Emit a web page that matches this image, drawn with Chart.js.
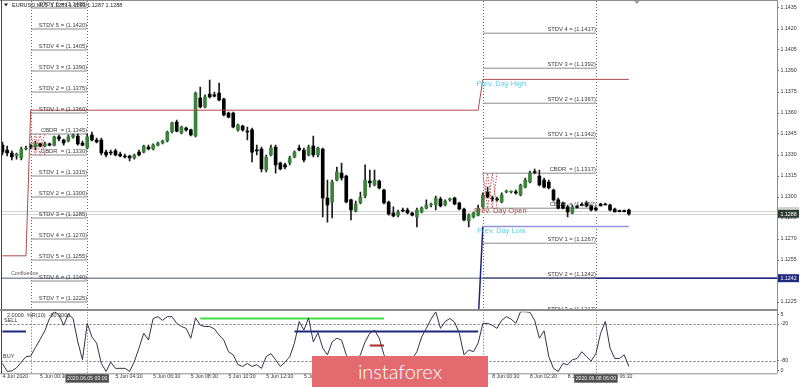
<!DOCTYPE html>
<html><head><meta charset="utf-8">
<script src="https://cdn.jsdelivr.net/npm/chart.js@4.4.1/dist/chart.umd.min.js"></script>
<style>
html,body{margin:0;padding:0;background:#fff;width:800px;height:387px;overflow:hidden;position:relative;font-family:"Liberation Sans",Arial,sans-serif}
#main{position:absolute;left:0;top:0;width:800px;height:309px}
#sub{position:absolute;left:0;top:311px;width:800px;height:76px}
#sep{position:absolute;left:0;top:309px;width:778px;height:2px;background:#8c8c8c}
#logo{position:absolute;left:312px;top:355.5px;width:176px;height:31.5px;background:#e36b6f;color:#fff;font:300 20px Lato,Roboto,"Open Sans",sans-serif;display:flex;align-items:center;justify-content:center}
</style></head>
<body>
<canvas id="main" width="800" height="309"></canvas>
<div id="sep"></div>
<canvas id="sub" width="800" height="76"></canvas>
<div id="logo">instaforex</div>
<script>
// ---- data (bar numbers counted from 5 Jun 2020 00:00, M15) ----
const firstBar = -6;
const open = [
1.13371,1.13336,1.13314,1.13293,1.13279,1.13343,1.13364,1.13357,1.13379,1.13364,
1.13379,1.13371,1.13429,1.13407,1.13400,1.13429,1.13436,1.13386,1.13350,1.13443,
1.13407,1.13407,1.13321,1.13321,1.13329,1.13307,1.13293,1.13293,1.13279,1.13321,
1.13321,1.13357,1.13343,1.13371,1.13386,1.13400,1.13464,1.13536,1.13457,1.13493,
1.13479,1.13436,1.13707,1.13643,1.13736,1.13729,1.13743,1.13700,1.13600,1.13600,
1.13479,1.13507,1.13471,1.13479,1.13336,1.13343,1.13193,1.13300,1.13357,1.13243,
1.13229,1.13243,1.13286,1.13350,1.13336,1.13300,1.13364,1.13300,1.13343,1.12993,
1.12964,1.13121,1.13171,1.13150,1.12979,1.12900,1.12957,1.13007,1.13114,1.13086,
1.13114,1.13050,1.12964,1.12886,1.12871,1.12907,1.12907,1.12886,1.12857,1.12893,
1.12921,1.12943,1.12943,1.12986,1.12943,1.12979,1.12993,1.12957,1.12914,1.12829,
1.12857,1.12871,1.12929,1.13036,1.12993,1.12986,1.12964,1.13036,1.13036,1.13036,
1.13014,1.13071,1.13107,1.13179,1.13150,1.13121,1.13107,1.13050,1.12979,1.12957,
1.12929,1.12886,1.12929,1.12943,1.12957,1.12936,1.12921,1.12950,1.12950,1.12943,
1.12914,1.12900,1.12900,1.12907];
const high = [
1.13393,1.13364,1.13329,1.13314,1.13357,1.13364,1.13379,1.13400,1.13386,1.13393,
1.13386,1.13436,1.13443,1.13414,1.13443,1.13450,1.13450,1.13400,1.13450,1.13464,
1.13421,1.13421,1.13336,1.13336,1.13343,1.13321,1.13307,1.13300,1.13307,1.13336,
1.13371,1.13371,1.13379,1.13393,1.13407,1.13471,1.13536,1.13550,1.13507,1.13500,
1.13486,1.13750,1.13786,1.13729,1.13836,1.13750,1.13814,1.13707,1.13607,1.13607,
1.13521,1.13514,1.13500,1.13493,1.13371,1.13357,1.13300,1.13371,1.13371,1.13250,
1.13243,1.13293,1.13329,1.13371,1.13350,1.13371,1.13436,1.13357,1.13350,1.13121,
1.13121,1.13214,1.13243,1.13157,1.12986,1.12971,1.13036,1.13229,1.13193,1.13193,
1.13121,1.13057,1.12971,1.12929,1.12907,1.12921,1.12921,1.12893,1.12921,1.12929,
1.12979,1.12957,1.13007,1.13000,1.12979,1.12993,1.13000,1.12964,1.12921,1.12879,
1.12893,1.12943,1.13029,1.13071,1.13007,1.13000,1.13029,1.13050,1.13043,1.13050,
1.13093,1.13136,1.13186,1.13200,1.13193,1.13136,1.13121,1.13057,1.12993,1.12964,
1.12943,1.12943,1.12943,1.12957,1.12971,1.12943,1.12929,1.12957,1.12957,1.12950,
1.12921,1.12907,1.12907,1.12914];
const low = [
1.13300,1.13293,1.13264,1.13271,1.13264,1.13336,1.13343,1.13336,1.13357,1.13357,
1.13364,1.13364,1.13400,1.13371,1.13393,1.13421,1.13371,1.13364,1.13343,1.13400,
1.13386,1.13300,1.13286,1.13300,1.13293,1.13286,1.13279,1.13257,1.13271,1.13293,
1.13314,1.13336,1.13336,1.13364,1.13379,1.13393,1.13457,1.13464,1.13450,1.13471,
1.13436,1.13429,1.13636,1.13636,1.13707,1.13714,1.13686,1.13579,1.13564,1.13493,
1.13471,1.13471,1.13407,1.13250,1.13300,1.13179,1.13179,1.13293,1.13171,1.13193,
1.13200,1.13229,1.13279,1.13329,1.13250,1.13293,1.13286,1.13286,1.12857,1.12821,
1.12850,1.13114,1.13121,1.12957,1.12836,1.12893,1.12950,1.12993,1.13071,1.13079,
1.13057,1.12950,1.12871,1.12857,1.12857,1.12893,1.12879,1.12864,1.12786,1.12886,
1.12914,1.12929,1.12907,1.12929,1.12936,1.12971,1.12943,1.12907,1.12829,1.12786,
1.12850,1.12864,1.12921,1.12993,1.12971,1.12971,1.12957,1.13029,1.13029,1.13021,
1.13007,1.13064,1.13100,1.13164,1.13079,1.13064,1.13057,1.12971,1.12914,1.12914,
1.12857,1.12879,1.12921,1.12936,1.12929,1.12900,1.12900,1.12936,1.12943,1.12900,
1.12893,1.12893,1.12893,1.12871];
const close = [
1.13321,1.13314,1.13286,1.13307,1.13343,1.13350,1.13357,1.13379,1.13364,1.13379,
1.13371,1.13429,1.13414,1.13386,1.13429,1.13443,1.13379,1.13371,1.13429,1.13407,
1.13393,1.13314,1.13300,1.13314,1.13300,1.13293,1.13286,1.13279,1.13300,1.13300,
1.13364,1.13343,1.13371,1.13386,1.13400,1.13464,1.13529,1.13471,1.13500,1.13479,
1.13443,1.13743,1.13643,1.13714,1.13714,1.13721,1.13693,1.13586,1.13571,1.13500,
1.13514,1.13479,1.13464,1.13321,1.13329,1.13200,1.13286,1.13350,1.13229,1.13200,
1.13214,1.13279,1.13321,1.13336,1.13264,1.13357,1.13300,1.13350,1.12993,1.12943,
1.13107,1.13179,1.13136,1.12964,1.12907,1.12950,1.13000,1.13121,1.13100,1.13121,
1.13064,1.12957,1.12879,1.12864,1.12893,1.12900,1.12886,1.12871,1.12907,1.12921,
1.12943,1.12950,1.12993,1.12936,1.12971,1.12986,1.12950,1.12914,1.12836,1.12871,
1.12886,1.12921,1.13014,1.13000,1.12986,1.12979,1.13014,1.13043,1.13040,1.13029,
1.13086,1.13121,1.13171,1.13175,1.13086,1.13071,1.13064,1.12979,1.12921,1.12921,
1.12893,1.12929,1.12925,1.12940,1.12936,1.12907,1.12907,1.12936,1.12943,1.12907,
1.12893,1.12895,1.12895,1.12879];
const wpr = [
-84,-97,-96,-91,-82,-73,-72,-58,-45,-31,
-11,0,-5,-22,-4,-11,-49,-78,-19,-41,
-51,-84,-97,-82,-92,-92,-92,-97,-81,-59,
-35,-46,-11,-8,-14,-8,-8,-19,-24,-27,
-43,-10,-22,-24,-24,-28,-38,-46,-65,-70,
-86,-89,-84,-89,-86,-92,-73,-68,-78,-89,
-82,-73,-51,-16,-30,-10,-49,-34,-59,-70,
-49,-43,-46,-70,-84,-81,-70,-49,-35,-30,
-43,-70,-84,-90,-85,-90,-80,-76,-65,-41,
-27,-12,0,-27,-16,-11,-17,-35,-70,-62,
-65,-51,-19,-19,-22,-27,-14,-8,-12,-19,
0,0,-1,-14,-43,-31,-73,-92,-97,-84,
-86,-78,-76,-65,-73,-80,-68,-35,-16,-59,
-76,-76,-70,-89];

const priceTicks = [1.1225,1.1240,1.1255,1.1270,1.1285,1.1300,1.1315,1.1330,1.1345,1.1360,1.1375,1.1390,1.1405,1.1420,1.1435];
const wprTicks = [-5,-20,-80,-95];
const wprTickLabels = ['5','-20','-80','0'];
const wprLevels = [-20,-80];
const tickBars = [-6,2,10,18,26,34,42,50,58,66,74,82,90,98,106,114,122];
const tickLabels = ['4 Jun 2020','5 Jun 00:30','5 Jun 02:30','5 Jun 04:30','5 Jun 06:30','5 Jun 08:30','5 Jun 10:30','5 Jun 12:30','5 Jun 14:30','5 Jun 16:30','5 Jun 18:30','5 Jun 20:30','5 Jun 22:30','8 Jun 00:30','8 Jun 02:30','8 Jun 04:30','8 Jun 06:30'];
const cursorBars = [12,120];
const cursorLabels = ['2020.06.05 03:00','2020.06.08 06:00'];
const sessionBars = [0,12,96,120];

const leftLevels = [1.1435,1.1420,1.1405,1.1390,1.1375,1.1360,1.1345,1.1330,1.1315,1.1300,1.1285,1.1270,1.1255,1.1240,1.1225];
const leftNames = ['STDV 6','STDV 5','STDV 4','STDV 3','STDV 2','STDV 1','CBDR ','CBDR ','STDV 1','STDV 2','STDV 3','STDV 4','STDV 5','STDV 6','STDV 7'];
const leftSpan = [0,12];
const rightLevels = [1.1417,1.1392,1.1367,1.1342,1.1317,1.1292,1.1267,1.1242,1.1217];
const rightNames = ['STDV 4','STDV 3','STDV 2','STDV 1','CBDR ','CBDR ','STDV 1','STDV 2','STDV 3'];
const rightSpan = [96,120];

const dayHighBars = [-6,-1,0,95,96,127];
const dayHighVals = [1.1258,1.1258,1.1362,1.1362,1.1384,1.1384];
const dayLowBars = [-6,-1,0,95,96,127];
const dayLowVals = [1.1170,1.1170,1.1211,1.1211,1.1279,1.1279];
const confluenceLevel = 1.1242;
const confluenceStart = 96;
const askPrice = 1.1290, bidPrice = 1.1288;
const cbdrZigBars = [[0,1,2,3],[96,97,98,99]];
const cbdrZigA = [[1.1330,1.1345,1.1330,1.1345],[1.1292,1.1317,1.1292,1.1317]];
const cbdrZigB = [[1.1345,1.1330,1.1345,1.1330],[1.1317,1.1292,1.1317,1.1292]];
const notes = [
  {text:'Prev. Day High', bar:94.6, price:1.1381, color:'#55d0e6', size:7.5},
  {text:'Prev. Day Open', bar:94.1, price:1.1290, color:'#b04646', size:7.5},
  {text:'Prev. Day Low',  bar:94.8, price:1.1276, color:'#55d0e6', size:7.5},
  {text:'Confluence',     bar:-4.2, price:1.1245, color:'#555555', size:5.4}
];
const header = 'EURUSD,M15  1.1289 1.1290 1.1287 1.1288';
const subHeader = '2.0000  %R(10)  -80.0000';
const wprNavySegs = [[-6,-1],[56,95]], wprNavy = -32;
const wprGreenSegs = [[36,75]], wprGreen = -11;
const wprRedSegs = [[72,75]], wprRed = -55;
const shiftBar = 128.7;

// ---- builders ----
const FONT = '"Liberation Sans", Arial, sans-serif';
Chart.defaults.font.family = FONT;
const bars = open.map((o,k)=>k+firstBar);
function segs(list, val){ const out=[]; list.forEach(([a,b])=>{out.push({x:a,y:val},{x:b,y:val},{x:b,y:null});}); return out; }
function levelSegs(levels, span){ const out=[]; levels.forEach(v=>{out.push({x:span[0],y:v},{x:span[1],y:v},{x:span[1],y:null});}); return out; }
const XMIN = -6.2, XMAX = 158.45;
const lineBase = {type:'line', pointRadius:0, borderWidth:1, tension:0, spanGaps:false};

const mainDecor = {
  id:'mainDecor',
  beforeDatasetsDraw(chart){
    const {ctx, chartArea:a, scales:{x,y}} = chart;
    ctx.save();
    ctx.beginPath(); ctx.rect(a.left,a.top,a.right-a.left,a.bottom-a.top); ctx.clip();
    ctx.strokeStyle='#666'; ctx.lineWidth=1; ctx.setLineDash([1,2]);
    sessionBars.forEach(b=>{const X=Math.round(x.getPixelForValue(b))+0.5; ctx.beginPath(); ctx.moveTo(X,a.top); ctx.lineTo(X,a.bottom); ctx.stroke();});
    ctx.setLineDash([]);
    ctx.strokeStyle='#d4d4d4';
    [askPrice,bidPrice].forEach(p=>{const Y=Math.round(y.getPixelForValue(p))+0.5; ctx.beginPath(); ctx.moveTo(a.left,Y); ctx.lineTo(a.right,Y); ctx.stroke();});
    const Y=y.getPixelForValue(confluenceLevel);
    ctx.strokeStyle='#8a90a2'; ctx.lineWidth=1.5; ctx.beginPath(); ctx.moveTo(a.left,Y); ctx.lineTo(a.right,Y); ctx.stroke();
    ctx.strokeStyle='#1c2680'; ctx.beginPath(); ctx.moveTo(x.getPixelForValue(confluenceStart),Y); ctx.lineTo(a.right,Y); ctx.stroke();
    ctx.restore();
  },
  afterDatasetsDraw(chart){
    const {ctx, chartArea:a, scales:{x,y}} = chart;
    ctx.save();
    ctx.beginPath(); ctx.rect(a.left,a.top,a.right-a.left,a.bottom-a.top); ctx.clip();
    ctx.font='5.8px '+FONT; ctx.fillStyle='#3a3a3a'; ctx.textAlign='right'; ctx.textBaseline='alphabetic';
    leftLevels.forEach((v,k)=>ctx.fillText(leftNames[k]+' = ('+v.toFixed(4)+')', x.getPixelForValue(leftSpan[1]), y.getPixelForValue(v)-2));
    rightLevels.forEach((v,k)=>ctx.fillText(rightNames[k]+' = ('+v.toFixed(4)+')', x.getPixelForValue(rightSpan[1]), y.getPixelForValue(v)-2));
    ctx.textAlign='left'; ctx.textBaseline='middle';
    notes.forEach(n=>{ctx.font=n.size+'px '+FONT; ctx.fillStyle=n.color; ctx.fillText(n.text, x.getPixelForValue(n.bar), y.getPixelForValue(n.price));});
    ctx.restore();
  },
  afterDraw(chart){
    const {ctx, chartArea:a, scales:{x,y}} = chart;
    ctx.save();
    ctx.strokeStyle='#8c8c8c'; ctx.lineWidth=1;
    ctx.beginPath(); ctx.moveTo(0,0.5); ctx.lineTo(a.right,0.5); ctx.stroke();
    ctx.beginPath(); ctx.moveTo(a.right+0.5,0); ctx.lineTo(a.right+0.5,a.bottom); ctx.stroke();
    ctx.strokeStyle='#444';
    ctx.beginPath(); ctx.moveTo(1.5,0); ctx.lineTo(1.5,a.bottom); ctx.stroke();
    ctx.fillStyle='#222'; ctx.textBaseline='middle'; ctx.textAlign='left';
    ctx.beginPath(); ctx.moveTo(4,3.5); ctx.lineTo(8,3.5); ctx.lineTo(6,6.5); ctx.closePath(); ctx.fill();
    ctx.font='5.5px '+FONT; ctx.fillText(header, 12, 5);
    const sx=x.getPixelForValue(shiftBar);
    ctx.fillStyle='#999'; ctx.beginPath(); ctx.moveTo(sx-2.5,1); ctx.lineTo(sx+2.5,1); ctx.lineTo(sx,4); ctx.closePath(); ctx.fill();
    ctx.font='5.3px '+FONT; ctx.textAlign='left';
    [[askPrice,'#d2d2d2','#f6f6f6'],[bidPrice,'#2e3b33','#ffffff'],[confluenceLevel,'#1f2a80','#ffffff']].forEach(([p,bg,fg])=>{
      const Y=y.getPixelForValue(p);
      ctx.fillStyle=bg; ctx.fillRect(a.right+1, Y-4, 21, 8);
      ctx.fillStyle=fg; ctx.fillText(p.toFixed(4), a.right+3.5, Y+0.3);
    });
    ctx.restore();
  }
};

new Chart(document.getElementById('main'), {
  type:'bar',
  data:{datasets:[
    {type:'bar', label:'body', order:1, grouped:false, barThickness:3, minBarLength:1,
     data: bars.map((b,k)=>({x:b, y:[open[k], close[k]]})),
     backgroundColor: c => (close[c.dataIndex] >= open[c.dataIndex]) ? '#3b823b' : '#000000'},
    {type:'bar', label:'wick', order:2, grouped:false, barThickness:1, minBarLength:1,
     data: bars.map((b,k)=>({x:b, y:[low[k], high[k]]})), backgroundColor:'#1a1a1a'},
    {...lineBase, order:3, borderColor:'#8a8a8a', data: levelSegs(leftLevels,leftSpan)},
    {...lineBase, order:3, borderColor:'#8a8a8a', data: levelSegs(rightLevels,rightSpan)},
    {...lineBase, order:0, borderColor:'#b04a4a', data: dayHighBars.map((b,k)=>({x:b,y:dayHighVals[k]}))},
    {...lineBase, order:0, borderColor:'#9494d8', borderWidth:1.5, data: dayLowBars.map((b,k)=>({x:b,y:dayLowVals[k]})),
     segment:{borderColor: s => s.p0.parsed.x === 95 ? '#1c2680' : undefined}},
    ...cbdrZigBars.flatMap((bb,j)=>[
      {...lineBase, order:0, borderColor:'#c85050', borderDash:[1.5,1.5], data: bb.map((b,k)=>({x:b,y:cbdrZigA[j][k]}))},
      {...lineBase, order:0, borderColor:'#c85050', borderDash:[1.5,1.5], data: bb.map((b,k)=>({x:b,y:cbdrZigB[j][k]}))}
    ])
  ]},
  options:{
    animation:false, responsive:false, maintainAspectRatio:false, events:[],
    layout:{padding:{left:1.5,right:0,top:1,bottom:0}},
    plugins:{legend:{display:false}, tooltip:{enabled:false}},
    scales:{
      x:{type:'linear', min:XMIN, max:XMAX, offset:false, display:false},
      y:{type:'linear', position:'right', min:1.1220, max:1.1440,
         afterBuildTicks: s => { s.ticks = priceTicks.map(v=>({value:v})); },
         afterFit: s => { s.width = 23; s.paddingTop = 0; s.paddingBottom = 0; },
         border:{display:false},
         grid:{display:true, drawOnChartArea:false, drawTicks:true, tickLength:2, color:'#666'},
         ticks:{font:{size:5.3}, color:'#333', padding:1.5, callback: v => Number(v).toFixed(4)}}
    }
  },
  plugins:[mainDecor]
});

const subDecor = {
  id:'subDecor',
  beforeDatasetsDraw(chart){
    const {ctx, chartArea:a, scales:{x,y}} = chart;
    ctx.save();
    ctx.beginPath(); ctx.rect(a.left,a.top,a.right-a.left,a.bottom-a.top); ctx.clip();
    ctx.strokeStyle='#666'; ctx.lineWidth=1; ctx.setLineDash([1,2]);
    sessionBars.forEach(b=>{const X=Math.round(x.getPixelForValue(b))+0.5; ctx.beginPath(); ctx.moveTo(X,a.top); ctx.lineTo(X,a.bottom); ctx.stroke();});
    ctx.strokeStyle='#777'; ctx.setLineDash([2,2]);
    wprLevels.forEach(v=>{const Y=Math.round(y.getPixelForValue(v))+0.5; ctx.beginPath(); ctx.moveTo(a.left,Y); ctx.lineTo(a.right,Y); ctx.stroke();});
    ctx.restore();
  },
  afterDraw(chart){
    const {ctx, chartArea:a, scales:{x,y}} = chart;
    ctx.save();
    ctx.strokeStyle='#8c8c8c'; ctx.lineWidth=1;
    ctx.beginPath(); ctx.moveTo(0,a.bottom+0.5); ctx.lineTo(a.right,a.bottom+0.5); ctx.stroke();
    ctx.beginPath(); ctx.moveTo(a.right+0.5,0); ctx.lineTo(a.right+0.5,a.bottom); ctx.stroke();
    ctx.strokeStyle='#444';
    ctx.beginPath(); ctx.moveTo(1.5,0); ctx.lineTo(1.5,a.bottom); ctx.stroke();
    ctx.fillStyle='#333'; ctx.font='5.5px '+FONT; ctx.textAlign='left'; ctx.textBaseline='middle';
    ctx.fillText(subHeader, 7, a.top+4);
    ctx.fillText('SELL', 4, y.getPixelForValue(wprLevels[0])-4);
    ctx.fillText('BUY', 3, y.getPixelForValue(wprLevels[1])-4);
    ctx.font='5.2px '+FONT; ctx.textAlign='center';
    cursorBars.forEach((b,k)=>{
      const X=x.getPixelForValue(b); const w=ctx.measureText(cursorLabels[k]).width+3;
      ctx.fillStyle='#505050'; ctx.fillRect(X-w/2, a.bottom+1, w, 8.4);
      ctx.fillStyle='#f0f0f0'; ctx.fillText(cursorLabels[k], X, a.bottom+5.3);
    });
    ctx.restore();
  }
};

new Chart(document.getElementById('sub'), {
  type:'line',
  data:{datasets:[
    {...lineBase, borderColor:'#34344e', data: bars.map((b,k)=>({x:b,y:wpr[k]}))},
    {...lineBase, borderColor:'#1c2680', borderWidth:2, data: segs(wprNavySegs, wprNavy)},
    {...lineBase, borderColor:'#3ee03e', borderWidth:2, data: segs(wprGreenSegs, wprGreen)},
    {...lineBase, borderColor:'#b02828', borderWidth:2, data: segs(wprRedSegs, wprRed)}
  ]},
  options:{
    animation:false, responsive:false, maintainAspectRatio:false, events:[],
    layout:{padding:{left:1.5,right:0,top:0.7,bottom:0}},
    plugins:{legend:{display:false}, tooltip:{enabled:false}},
    scales:{
      x:{type:'linear', min:XMIN, max:XMAX, offset:false, position:'bottom',
         afterBuildTicks: s => { s.ticks = tickBars.map(v=>({value:v})); },
         afterFit: s => { s.height = 13.7; s.paddingLeft = 0; s.paddingRight = 0; },
         border:{display:false},
         grid:{display:false, drawTicks:false},
         ticks:{align:'start', autoSkip:false, maxRotation:0, minRotation:0, padding:0.5, font:{size:5.2}, color:'#333',
                callback: v => { const k = tickBars.indexOf(v); return k>=0 ? tickLabels[k] : ''; }}},
      y:{type:'linear', position:'right', min:-100, max:0,
         afterBuildTicks: s => { s.ticks = wprTicks.map(v=>({value:v})); },
         afterFit: s => { s.width = 23; s.paddingTop = 0; s.paddingBottom = 0; },
         border:{display:false},
         grid:{display:true, drawOnChartArea:false, drawTicks:true, tickLength:2, color:'#666'},
         ticks:{font:{size:5.3}, color:'#333', padding:1.5,
                callback: v => { const k = wprTicks.indexOf(v); return k>=0 ? wprTickLabels[k] : ''; }}}
    }
  },
  plugins:[subDecor]
});
</script>
</body></html>
